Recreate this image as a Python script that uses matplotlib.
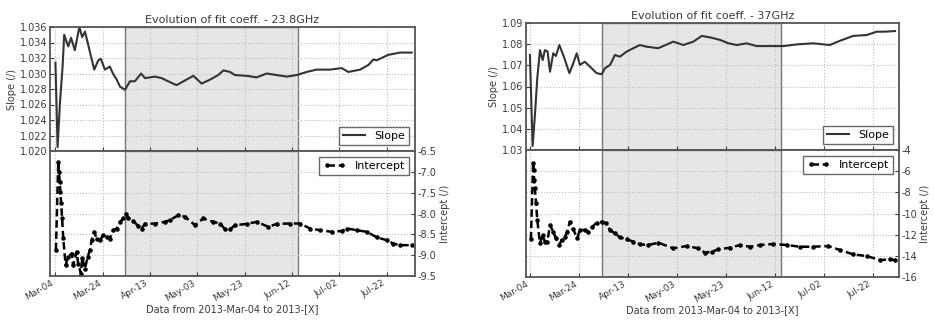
import matplotlib
matplotlib.use("Agg")
import matplotlib.pyplot as plt
import matplotlib.dates as mdates
import datetime as dt

plt.rc("font", family="DejaVu Sans", size=7)

start = dt.datetime(2013, 3, 4)

# 23.8 GHz - slope (day offset from Mar-04, value)
d_s23 = [0.0, 0.9, 1.9, 3.0, 3.7, 5.4, 6.6, 8.2, 10.1, 11.3, 12.5, 16.4, 18.1, 19.2,
         20.9, 23.0, 24.3, 25.9, 27.3, 29.4, 31.5, 33.6, 36.2, 37.9, 42.1, 44.9, 49.7,
         51.2, 58.3, 61.8, 65.3, 68.8, 71.0, 73.8, 75.9, 80.8, 85.1, 89.3, 93.5, 97.8,
         102.0, 106.2, 110.4, 116.1, 121.0, 123.8, 128.8, 132.3, 134.4, 135.8, 140.6,
         145.7, 150.6]
v_s23 = [1.0314, 1.0205, 1.0262, 1.0308, 1.0350, 1.0335, 1.0346, 1.0330, 1.0360, 1.0347,
         1.0354, 1.0305, 1.0317, 1.0319, 1.0305, 1.0309, 1.0300, 1.0292, 1.0283, 1.0279,
         1.0290, 1.0290, 1.0300, 1.0294, 1.0296, 1.0294, 1.0287, 1.0285, 1.0297, 1.0287,
         1.0292, 1.0298, 1.0304, 1.0302, 1.0298, 1.0297, 1.0295, 1.0300, 1.0298, 1.0296,
         1.0298, 1.0302, 1.0305, 1.0305, 1.0307, 1.0302, 1.0305, 1.0311, 1.0318, 1.0317,
         1.0324, 1.0327, 1.0327]

# 23.8 GHz - intercept
d_i23 = [0.2, 1.2, 1.5, 1.8, 2.1, 2.4, 2.8, 3.3, 4.3, 5.4, 6.8, 7.5, 9.0, 9.6, 10.8,
         11.3, 12.5, 13.6, 14.6, 15.3, 16.4, 17.4, 18.8, 20.2, 21.6, 23.0, 24.4, 25.9,
         27.3, 28.7, 29.8, 30.8, 32.9, 35.0, 36.4, 37.8, 42.1, 46.3, 48.4, 51.9, 54.8,
         59.0, 62.5, 66.7, 69.6, 71.7, 73.8, 75.9, 80.8, 85.1, 90.0, 93.5, 99.2, 103.4,
         107.6, 111.8, 116.8, 121.0, 123.1, 127.4, 131.6, 135.8, 140.0, 142.8, 145.7, 150.6]
v_i23 = [-8.88, -6.76, -7.00, -7.24, -7.48, -7.74, -8.10, -8.59, -9.24, -9.04, -8.96,
         -9.24, -8.92, -9.20, -9.44, -9.07, -9.32, -9.04, -8.88, -8.64, -8.44, -8.60,
         -8.64, -8.52, -8.56, -8.60, -8.40, -8.36, -8.20, -8.12, -8.01, -8.12, -8.18,
         -8.30, -8.36, -8.25, -8.24, -8.20, -8.16, -8.04, -8.08, -8.28, -8.12, -8.20,
         -8.24, -8.38, -8.38, -8.28, -8.25, -8.20, -8.32, -8.25, -8.24, -8.24, -8.36,
         -8.40, -8.44, -8.42, -8.36, -8.40, -8.44, -8.57, -8.64, -8.72, -8.76, -8.76]

# 37 GHz - slope
d_s37 = [0.0, 1.1, 2.0, 3.0, 4.1, 5.2, 6.1, 7.2, 8.2, 9.5, 10.6, 12.0, 13.6, 16.1, 17.7,
         19.1, 20.4, 22.4, 25.2, 27.2, 29.3, 30.6, 32.7, 34.7, 36.7, 39.5, 42.2, 44.9,
         47.6, 52.4, 58.5, 62.6, 66.7, 70.1, 73.5, 77.6, 81.0, 84.4, 88.4, 92.5, 98.0,
         103.4, 108.9, 115.6, 122.4, 126.5, 131.9, 137.4, 141.5, 144.9, 149.0]
v_s37 = [1.0749, 1.0319, 1.0458, 1.0639, 1.0772, 1.0725, 1.0772, 1.0765, 1.0670, 1.0757,
         1.0744, 1.0796, 1.0749, 1.0663, 1.0710, 1.0757, 1.0702, 1.0717, 1.0686, 1.0663,
         1.0658, 1.0686, 1.0702, 1.0749, 1.0741, 1.0765, 1.0781, 1.0796, 1.0788, 1.0781,
         1.0812, 1.0796, 1.0812, 1.0839, 1.0832, 1.0820, 1.0804, 1.0796, 1.0804, 1.0791,
         1.0791, 1.0791, 1.0799, 1.0804, 1.0796, 1.0816, 1.0839, 1.0843, 1.0859, 1.0859,
         1.0862]

# 37 GHz - intercept
d_i37 = [0.4, 1.3, 1.5, 1.7, 2.0, 2.5, 3.0, 4.1, 5.2, 6.1, 7.1, 8.2, 9.5, 10.6, 12.0,
         12.9, 14.3, 15.2, 16.3, 17.7, 19.3, 20.4, 22.4, 23.8, 25.2, 27.2, 29.3, 31.0,
         32.7, 34.7, 36.7, 39.5, 42.2, 44.9, 48.3, 52.4, 58.5, 64.0, 68.7, 71.4, 74.2,
         76.9, 81.6, 85.7, 89.8, 93.9, 99.3, 104.8, 110.2, 115.6, 121.8, 126.5, 131.9,
         137.4, 142.9, 147.0, 149.0]
v_i37 = [-12.44, -5.20, -5.90, -6.80, -7.62, -9.00, -10.60, -12.82, -12.03, -12.66,
         -12.66, -11.09, -11.72, -12.35, -12.98, -12.50, -12.19, -11.72, -10.78, -11.50,
         -12.35, -11.56, -11.56, -11.72, -11.31, -10.87, -10.78, -10.93, -11.56, -11.88,
         -12.25, -12.44, -12.66, -12.91, -12.98, -12.76, -13.29, -13.07, -13.29, -13.70,
         -13.61, -13.39, -13.23, -12.98, -13.14, -12.98, -12.88, -12.98, -13.14, -13.14,
         -13.07, -13.45, -13.86, -14.02, -14.40, -14.33, -14.40]

panels = [
    dict(title="Evolution of fit coeff. - 23.8GHz", ds=d_s23, vs=v_s23, di=d_i23, vi=v_i23,
         slim=(1.020, 1.036), sticks=[1.020 + 0.002 * k for k in range(9)], sfmt="%.3f",
         ilim=(-9.5, -6.5), iticks=[-9.5, -9.0, -8.5, -8.0, -7.5, -7.0, -6.5], ifmt="%.1f",
         box=(50, 415, 27, 151, 276), xlim=(-2.3, 152.0)),
    dict(title="Evolution of fit coeff. - 37GHz", ds=d_s37, vs=v_s37, di=d_i37, vi=v_i37,
         slim=(1.03, 1.09), sticks=[1.03, 1.04, 1.05, 1.06, 1.07, 1.08, 1.09], sfmt="%.2f",
         ilim=(-16, -4), iticks=[-16, -14, -12, -10, -8, -6, -4], ifmt="%d",
         box=(526, 899, 23, 150, 277), xlim=(-1.6, 150.6)),
]

W, H = 934, 320
fig = plt.figure(figsize=(W / 100, H / 100), dpi=100)
dark = "#3a3a3a"
tick_days = [20 * k for k in range(8)]

def todate(days):
    return [start + dt.timedelta(days=d) for d in days]

for p in panels:
    x0, x1, yt, ym, yb = p["box"]
    ax1 = fig.add_axes([x0 / W, 1 - ym / H, (x1 - x0) / W, (ym - yt) / H])
    ax2 = fig.add_axes([x0 / W, 1 - yb / H, (x1 - x0) / W, (yb - ym) / H], sharex=ax1)

    for ax in (ax1, ax2):
        ax.axvspan(start + dt.timedelta(days=29.4), start + dt.timedelta(days=102.5),
                   facecolor="#e6e6e6", edgecolor="#777777", linewidth=1.0, zorder=0)
        ax.grid(True, color="#bbbbbb", linestyle=":", linewidth=0.8)
        for s in ax.spines.values():
            s.set_color("#555555")
            s.set_linewidth(1.3)
        ax.tick_params(colors=dark, labelsize=7, length=3, direction="in", pad=2)

    ax1.plot(todate(p["ds"]), p["vs"], "-", color="#333333", lw=1.5, label="Slope")
    ax1.set_ylim(*p["slim"])
    ax1.set_yticks(p["sticks"])
    ax1.set_yticklabels([p["sfmt"] % v for v in p["sticks"]])
    ax1.set_ylabel("Slope (/)", color=dark, fontsize=7, labelpad=2)
    ax1.set_title(p["title"], fontsize=8, color=dark, pad=3)
    ax1.tick_params(labelbottom=False)
    leg = ax1.legend(loc="lower right", fontsize=8, fancybox=False, handlelength=2)
    leg.get_frame().set_edgecolor("#444444")

    ax2.plot(todate(p["di"]), p["vi"], linestyle=(0, (3, 1.5)), marker=".", color="black",
             lw=1.8, ms=4.5, label="Intercept")
    ax2.set_ylim(*p["ilim"])
    ax2.set_yticks(p["iticks"])
    ax2.set_yticklabels([p["ifmt"] % v for v in p["iticks"]])
    ax2.yaxis.tick_right()
    ax2.yaxis.set_label_position("right")
    ax2.set_ylabel("Intercept (/)", color=dark, fontsize=7, labelpad=2)
    leg = ax2.legend(loc="upper right", fontsize=8, fancybox=False, numpoints=2, handlelength=2)
    leg.get_frame().set_edgecolor("#444444")

    ax2.set_xticks(todate(tick_days))
    ax2.xaxis.set_major_formatter(mdates.DateFormatter("%b-%d"))
    ax2.set_xlim(start + dt.timedelta(days=p["xlim"][0]), start + dt.timedelta(days=p["xlim"][1]))
    for lab in ax2.get_xticklabels():
        lab.set_rotation(30)
        lab.set_ha("right")
        lab.set_fontsize(6.5)
    ax2.set_xlabel("Data from 2013-Mar-04 to 2013-[X]", color=dark, fontsize=7, labelpad=1)

fig.savefig("out.png", dpi=100)
